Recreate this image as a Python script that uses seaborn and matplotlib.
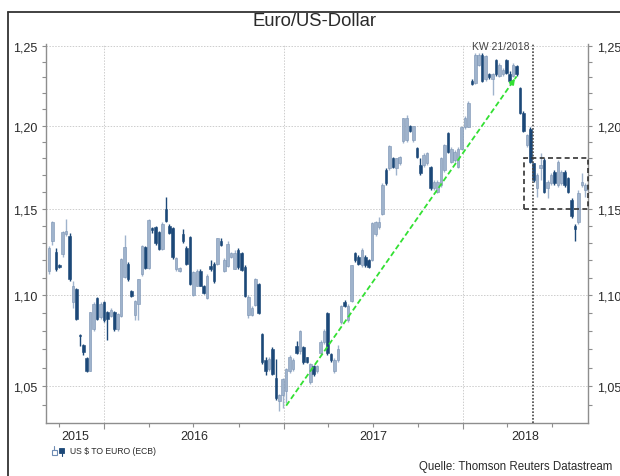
import numpy as np
import pandas as pd
import matplotlib
matplotlib.use("Agg")
import matplotlib.pyplot as plt
import matplotlib.dates as mdates
import matplotlib.ticker as mticker
from matplotlib.patches import Rectangle
from matplotlib.lines import Line2D
import seaborn as sns

# ---------------- data (weekly candles, ECB USD per EUR) ----------------
opens = [1.114, 1.131, 1.125, 1.1174, 1.1238, 1.135, 1.1339, 1.096, 1.1035, 1.078,
         1.0725, 1.0652, 1.0584, 1.0813, 1.0984, 1.0877, 1.096, 1.0905, 1.0886, 1.0905,
         1.0813, 1.0886, 1.1103, 1.118, 1.1025, 1.089, 1.095, 1.112, 1.1277, 1.1155,
         1.1385, 1.139, 1.1364, 1.1267, 1.1496, 1.140, 1.1384, 1.115, 1.114, 1.135,
         1.127, 1.1335, 1.100, 1.1055, 1.114, 1.1054, 1.0987, 1.1167, 1.118, 1.118,
         1.131, 1.114, 1.1166, 1.122, 1.115, 1.126, 1.124, 1.1163, 1.0887, 1.089,
         1.0943, 1.1063, 1.0786, 1.064, 1.059, 1.070, 1.0546, 1.042, 1.045, 1.0472,
         1.058, 1.059, 1.072, 1.069, 1.071, 1.0657, 1.052, 1.061, 1.058, 1.068,
         1.074, 1.090, 1.0675, 1.058, 1.064, 1.085, 1.096, 1.086, 1.097, 1.124,
         1.122, 1.117, 1.122, 1.120, 1.120, 1.135, 1.139, 1.147, 1.173, 1.174,
         1.180, 1.174, 1.177, 1.1905, 1.191, 1.1996, 1.191, 1.1865, 1.176, 1.176,
         1.177, 1.175, 1.162, 1.160, 1.164, 1.173, 1.1954, 1.178, 1.179, 1.175,
         1.186, 1.199, 1.1994, 1.228, 1.2267, 1.238, 1.2445, 1.229, 1.232, 1.229,
         1.241, 1.231, 1.232, 1.241, 1.232, 1.231, 1.237, 1.2235, 1.208, 1.188,
         1.198, 1.177, 1.162, 1.174, 1.179, 1.162, 1.165, 1.172, 1.164, 1.165,
         1.172, 1.168, 1.155, 1.140, 1.142, 1.164, 1.161]
closes = [1.127, 1.142, 1.115, 1.1163, 1.1364, 1.137, 1.109, 1.105, 1.0868, 1.0773,
          1.0685, 1.0584, 1.0905, 1.0951, 1.0868, 1.0951, 1.0859, 1.0868, 1.0918, 1.081,
          1.0896, 1.1205, 1.1277, 1.109, 1.0996, 1.0969, 1.109, 1.128, 1.1155, 1.1436,
          1.1375, 1.130, 1.1264, 1.141, 1.1426, 1.1355, 1.122, 1.121, 1.1157, 1.131,
          1.118, 1.1064, 1.1132, 1.114, 1.1055, 1.1015, 1.1112, 1.115, 1.108, 1.1326,
          1.129, 1.120, 1.1296, 1.124, 1.124, 1.116, 1.1143, 1.0998, 1.0993, 1.093,
          1.109, 1.090, 1.063, 1.058, 1.0648, 1.0565, 1.0435, 1.045, 1.054, 1.0592,
          1.066, 1.064, 1.068, 1.080, 1.063, 1.063, 1.062, 1.0565, 1.061, 1.074,
          1.080, 1.068, 1.064, 1.064, 1.070, 1.094, 1.094, 1.094, 1.117, 1.120,
          1.118, 1.126, 1.117, 1.116, 1.1415, 1.142, 1.142, 1.164, 1.165, 1.1875,
          1.175, 1.180, 1.181, 1.2046, 1.205, 1.1966, 1.1996, 1.181, 1.171, 1.182,
          1.183, 1.162, 1.166, 1.166, 1.180, 1.188, 1.184, 1.186, 1.184, 1.186,
          1.1994, 1.205, 1.214, 1.226, 1.2445, 1.2445, 1.2277, 1.2435, 1.230, 1.232,
          1.232, 1.238, 1.235, 1.233, 1.228, 1.238, 1.232, 1.208, 1.197, 1.194,
          1.178, 1.167, 1.170, 1.176, 1.160, 1.166, 1.170, 1.165, 1.178, 1.172,
          1.164, 1.160, 1.1455, 1.138, 1.159, 1.166, 1.164]
highs = [1.128, 1.143, 1.127, 1.118, 1.137, 1.144, 1.136, 1.108, 1.104, 1.0786,
         1.073, 1.066, 1.0908, 1.096, 1.099, 1.096, 1.097, 1.091, 1.093, 1.091,
         1.090, 1.121, 1.1345, 1.119, 1.103, 1.0975, 1.1095, 1.129, 1.128, 1.144,
         1.1395, 1.140, 1.137, 1.142, 1.1568, 1.141, 1.139, 1.122, 1.116, 1.138,
         1.128, 1.134, 1.114, 1.115, 1.115, 1.106, 1.112, 1.120, 1.119, 1.133,
         1.133, 1.121, 1.131, 1.125, 1.126, 1.127, 1.125, 1.117, 1.100, 1.094,
         1.110, 1.107, 1.079, 1.066, 1.066, 1.071, 1.0645, 1.0455, 1.0545, 1.0595,
         1.067, 1.065, 1.0745, 1.0805, 1.072, 1.066, 1.0625, 1.0615, 1.0615, 1.075,
         1.081, 1.0905, 1.068, 1.065, 1.0725, 1.0945, 1.0975, 1.095, 1.1175, 1.125,
         1.123, 1.127, 1.123, 1.1205, 1.142, 1.143, 1.145, 1.165, 1.174, 1.188,
         1.181, 1.1805, 1.1815, 1.205, 1.2065, 1.2005, 1.200, 1.187, 1.180, 1.183,
         1.184, 1.1755, 1.167, 1.167, 1.181, 1.189, 1.196, 1.187, 1.185, 1.187,
         1.200, 1.206, 1.215, 1.229, 1.2455, 1.2455, 1.2455, 1.2445, 1.233, 1.233,
         1.242, 1.239, 1.236, 1.242, 1.234, 1.239, 1.238, 1.224, 1.209, 1.195,
         1.199, 1.1775, 1.171, 1.183, 1.180, 1.167, 1.171, 1.173, 1.179, 1.173,
         1.173, 1.169, 1.156, 1.141, 1.161, 1.171, 1.165]
lows = [1.112, 1.129, 1.114, 1.1153, 1.122, 1.134, 1.108, 1.093, 1.086, 1.0718,
        1.0667, 1.0575, 1.058, 1.080, 1.086, 1.087, 1.085, 1.0749, 1.088, 1.080,
        1.080, 1.088, 1.110, 1.108, 1.099, 1.0859, 1.0859, 1.111, 1.115, 1.115,
        1.136, 1.129, 1.126, 1.126, 1.142, 1.135, 1.1205, 1.114, 1.1135, 1.130,
        1.117, 1.106, 1.0995, 1.105, 1.105, 1.101, 1.098, 1.114, 1.107, 1.117,
        1.128, 1.113, 1.116, 1.121, 1.115, 1.115, 1.114, 1.099, 1.0875, 1.0885,
        1.094, 1.0895, 1.062, 1.056, 1.058, 1.056, 1.0425, 1.0365, 1.0385, 1.0408,
        1.057, 1.058, 1.0675, 1.0675, 1.062, 1.0625, 1.051, 1.0555, 1.057, 1.067,
        1.073, 1.067, 1.063, 1.057, 1.063, 1.084, 1.0935, 1.085, 1.0965, 1.119,
        1.117, 1.116, 1.116, 1.1155, 1.1195, 1.134, 1.138, 1.146, 1.164, 1.173,
        1.174, 1.170, 1.176, 1.1895, 1.190, 1.196, 1.190, 1.180, 1.170, 1.175,
        1.176, 1.161, 1.161, 1.159, 1.163, 1.172, 1.183, 1.177, 1.178, 1.174,
        1.185, 1.198, 1.199, 1.2255, 1.226, 1.237, 1.227, 1.228, 1.229, 1.219,
        1.231, 1.230, 1.231, 1.232, 1.225, 1.230, 1.231, 1.207, 1.196, 1.187,
        1.177, 1.166, 1.157, 1.167, 1.159, 1.156, 1.164, 1.164, 1.163, 1.164,
        1.163, 1.159, 1.1445, 1.131, 1.141, 1.163, 1.157]
first_week = "2015-09-11"

y_ticks = [1.05, 1.10, 1.15, 1.20, 1.25]
y_labels = ["1,05", "1,10", "1,15", "1,20", "1,25"]
year_labels = ["2015", "2016", "2017", "2018"]
x_range = ("2015-09-05", "2018-09-13")
y_range = (1.0303, 1.2513)

title = "Euro/US-Dollar"
series_name = "US $ TO EURO (ECB)"
source = "Quelle: Thomson Reuters Datastream"
kw_date, kw_label = "2018-05-24", "KW 21/2018"
box_left, box_low, box_high = "2018-05-05", 1.15, 1.18
arrow_from = ("2017-01-06", 1.0395)
arrow_to = ("2018-04-20", 1.2307)

# ---------------- styling ----------------
sns.set_theme(style="white", rc={"axes.grid": False})
plt.rcParams["font.family"] = ["Liberation Sans", "DejaVu Sans"]

UP_FACE, UP_EDGE = "#9fb3cc", "#7891b2"
DN_FACE = "#1c4878"
GRID = "#cdcdcd"
AXC = "#8e8e8e"
TXT = "#2a2a2a"

W, H = 620, 477
fig = plt.figure(figsize=(W / 100, H / 100), dpi=100)
fig.patch.set_facecolor("white")
ax = fig.add_axes([46 / W, 1 - 424 / H, (588.3 - 46) / W, (424 - 45) / H])

dates = pd.date_range(first_week, periods=len(opens), freq="7D")
df = pd.DataFrame({
    "x": mdates.date2num(dates.to_pydatetime()),
    "open": opens, "high": highs, "low": lows, "close": closes,
})
up = (df["close"] >= df["open"]).to_numpy()
face = np.where(up, UP_FACE, DN_FACE)
edge = np.where(up, UP_EDGE, DN_FACE)

def dnum(s):
    return float(mdates.date2num(pd.Timestamp(s).to_pydatetime()))

x0, x1 = dnum(x_range[0]), dnum(x_range[1])

ax.set_yscale("log")

# manual grid: value gridlines and year boundaries
for v in y_ticks:
    ax.axhline(v, color=GRID, lw=0.7, ls=(0, (1.5, 1.5)), zorder=1)
for lab in year_labels[1:]:
    ax.axvline(dnum(f"{lab}-01-01"), color=GRID, lw=0.7, ls=(0, (1.5, 1.5)), zorder=1)

ax.vlines(df["x"].to_numpy(), df["low"].to_numpy(), df["high"].to_numpy(),
          colors=face, lw=1.0, zorder=3)
body_low = np.minimum(df["open"].to_numpy(), df["close"].to_numpy())
body_h = np.clip(np.abs(df["close"].to_numpy() - df["open"].to_numpy()), 0.0007, None)
ax.bar(df["x"].to_numpy(), body_h, bottom=body_low, width=5.2, color=face,
       edgecolor=edge, linewidth=0.4, zorder=4)

ax.set_xlim(x0, x1)
ax.set_ylim(*y_range)
ax.xaxis_date()

# y axis: both sides
ax.yaxis.set_major_locator(mticker.FixedLocator(y_ticks))
ax.yaxis.set_major_formatter(mticker.FixedFormatter(y_labels))
ax.yaxis.set_minor_locator(mticker.FixedLocator(np.round(np.arange(1.04, 1.251, 0.01), 2)))
ax.yaxis.set_minor_formatter(mticker.NullFormatter())
ax.tick_params(axis="y", which="both", left=True, right=True, labelleft=True,
               labelright=True, direction="out", color=AXC, labelcolor=TXT,
               labelsize=9, pad=3)
ax.tick_params(axis="y", which="major", length=3.2, width=0.8)
ax.tick_params(axis="y", which="minor", length=2.6, width=0.8)

# x axis
ax.xaxis.set_major_locator(mdates.YearLocator())
ax.xaxis.set_minor_locator(mdates.MonthLocator(bymonth=[1, 4, 7, 10]))
ax.xaxis.set_major_formatter(mticker.NullFormatter())
ax.xaxis.set_minor_formatter(mticker.NullFormatter())
ax.tick_params(axis="x", which="both", bottom=True, direction="out", color=AXC)
ax.tick_params(axis="x", which="major", length=4.5, width=0.8)
ax.tick_params(axis="x", which="minor", length=2.8, width=0.8)
for axis in (ax.xaxis, ax.yaxis):
    axis.set_tick_params(which="both", gridOn=False)

for s in ["left", "right", "bottom"]:
    ax.spines[s].set_color(AXC)
    ax.spines[s].set_linewidth(1.0)
ax.spines["top"].set_visible(False)

# year labels centred in the visible part of each year
for lab in year_labels:
    a = max(dnum(f"{lab}-01-01"), x0)
    b = min(dnum(f"{int(lab) + 1}-01-01"), x1)
    ax.text((a + b) / 2, -0.034, lab, transform=ax.get_xaxis_transform(),
            ha="center", va="center", fontsize=9, color=TXT)

# KW line + label
kw = dnum(kw_date)
ax.axvline(kw, color="#454545", lw=1.2, ls=(0, (1, 1)), zorder=5)
ax.annotate(kw_label, xy=(kw, 0.995), xycoords=ax.get_xaxis_transform(),
            xytext=(-3, 0), textcoords="offset points", ha="right", va="center",
            fontsize=7.5, color="#444444", zorder=6)

# dashed box
bl = dnum(box_left)
ax.add_patch(Rectangle((bl, box_low), x1 - bl, box_high - box_low,
                       fill=False, ec="#333333", lw=1.2, ls=(0, (3, 2)), zorder=6,
                       clip_on=False))

# green trend arrow
GREEN = "#33e033"
p0 = (dnum(arrow_from[0]), arrow_from[1])
p1 = (dnum(arrow_to[0]), arrow_to[1])
ax.plot([p0[0], p1[0]], [p0[1], p1[1]], color=GREEN, lw=1.3, ls=(0, (3, 1.6)), zorder=7)
ax.annotate("", xy=p1, xytext=(-4.6, -6.6), textcoords="offset points",
            arrowprops=dict(arrowstyle="-|>", color=GREEN, lw=1.2, mutation_scale=8),
            zorder=7)

# title, legend, source
fig.text(314 / W, 1 - 22 / H, title, ha="center", va="center", fontsize=13.3, color=TXT)
fig.text(70 / W, 1 - 452 / H, series_name, ha="left", va="center", fontsize=6.2, color=TXT)
fig.text(612 / W, 1 - 467 / H, source, ha="right", va="center", fontsize=8.3, color=TXT)

# legend icons (hollow up candle, filled down candle)
fig.add_artist(Rectangle((52 / W, 1 - 456 / H), 4.5 / W, 5 / H, transform=fig.transFigure,
                         fill=False, ec="#6f8db5", lw=0.8))
fig.add_artist(Line2D([54.25 / W] * 2, [1 - 451 / H, 1 - 447 / H], transform=fig.transFigure,
                      color="#6f8db5", lw=0.8))
fig.add_artist(Rectangle((59 / W, 1 - 454 / H), 5 / W, 5 / H, transform=fig.transFigure,
                         fc=DN_FACE, ec=DN_FACE, lw=0.6))
fig.add_artist(Line2D([61.5 / W] * 2, [1 - 454 / H, 1 - 457 / H], transform=fig.transFigure,
                      color=DN_FACE, lw=0.8))

# outer frame (left and top edges visible)
fig.add_artist(Line2D([8 / W, 8 / W], [0, 1 - 13 / H], transform=fig.transFigure,
                      color="#333333", lw=1.3))
fig.add_artist(Line2D([8 / W, 1], [1 - 13 / H, 1 - 13 / H], transform=fig.transFigure,
                      color="#333333", lw=1.3))

fig.canvas.draw()
for axis in (ax.xaxis, ax.yaxis):
    for t in axis.get_major_ticks() + axis.get_minor_ticks():
        t.gridline.set_visible(False)

fig.savefig("out.png", dpi=100, facecolor="white")
